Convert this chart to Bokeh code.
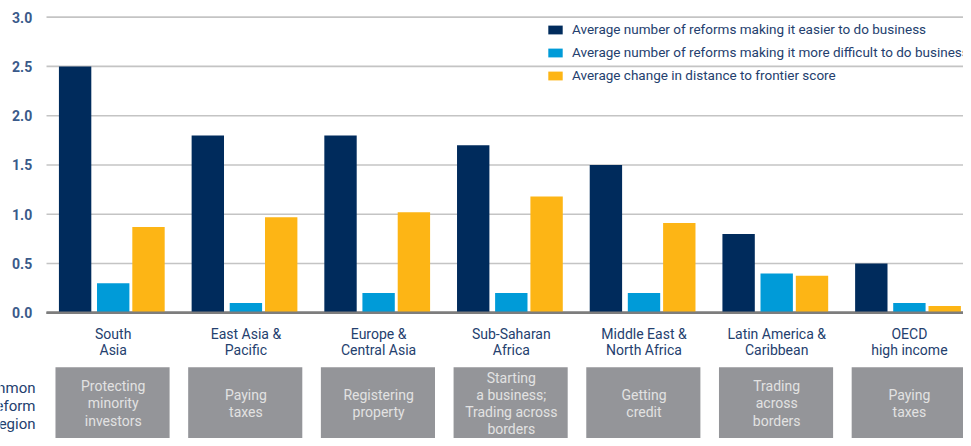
from bokeh.plotting import figure
from bokeh.models import (ColumnDataSource, Range1d, Legend, LegendItem)
from bokeh.transform import dodge
from bokeh.core.properties import value
from bokeh.embed import file_html
from bokeh.resources import INLINE

# ---- data ----
regions = ["South\nAsia", "East Asia &\nPacific", "Europe &\nCentral Asia",
           "Sub-Saharan\nAfrica", "Middle East &\nNorth Africa",
           "Latin America &\nCaribbean", "OECD\nhigh income"]
easier = [2.5, 1.8, 1.8, 1.7, 1.5, 0.8, 0.5]
harder = [0.3, 0.1, 0.2, 0.2, 0.2, 0.4, 0.1]
dtf_change = [0.87, 0.97, 1.02, 1.18, 0.91, 0.375, 0.07]
common_reform = ["Protecting\nminority\ninvestors", "Paying\ntaxes",
                 "Registering\nproperty",
                 "Starting\na business;\nTrading across\nborders",
                 "Getting\ncredit", "Trading\nacross\nborders", "Paying\ntaxes"]
series_names = ["Average number of reforms making it easier to do business",
                "Average number of reforms making it more difficult to do business",
                "Average change in distance to frontier score"]
y_ticks = [0.0, 0.5, 1.0, 1.5, 2.0, 2.5, 3.0]
y_tick_labels = ["0.0", "0.5", "1.0", "1.5", "2.0", "2.5", "3.0"]
row_label = "Most common\narea of reform\nby region"

# ---- style / layout constants ----
NAVY = "#002b5c"
BLUE = "#009bd8"
GOLD = "#fdb515"
TXT = "#24406e"
FONT = "Roboto"
X0, X1 = -0.8493, 6.4077       # canvas x range (data units)
Y0, Y1 = -1.2754, 3.1687       # canvas y range (data units)
GRID_LEFT = -0.5026            # where the plot area starts
TICK_X = -0.6104               # right edge of the tick labels
ROW_X = -0.5855                # right edge of the row caption
CAT_Y = -0.294                 # middle of the region labels
BOX_TOP, BOX_BOTTOM = -0.552, -1.40
BOX_TEXT_Y = -0.920

n = len(regions)
xs = list(range(n))
src = ColumnDataSource(dict(
    x=xs, easier=easier, harder=harder, dtf=dtf_change,
    region=regions, reform=common_reform,
    ycat=[CAT_Y] * n, ybox=[BOX_TEXT_Y] * n,
    box_l=[i - 0.435 for i in xs], box_r=[i + 0.425 for i in xs],
    box_t=[BOX_TOP] * n, box_b=[BOX_BOTTOM] * n,
))
grid_src = ColumnDataSource(dict(
    y=y_ticks, x0=[GRID_LEFT] * len(y_ticks), x1=[X1] * len(y_ticks),
    tx=[TICK_X] * len(y_ticks), lab=y_tick_labels,
    color=["#7d7d7d"] + ["#c4c4c4"] * (len(y_ticks) - 1),
    lw=[2.5] + [1.6] * (len(y_ticks) - 1),
))

p = figure(width=963, height=438, output_backend="svg", toolbar_location=None,
           x_range=Range1d(X0, X1), y_range=Range1d(Y0, Y1),
           x_axis_location=None, y_axis_location=None,
           min_border_left=0, min_border_right=0,
           min_border_top=0, min_border_bottom=0)
p.outline_line_color = None
p.xgrid.visible = False
p.ygrid.visible = False

# gridlines (light) and zero line (dark)
p.segment(x0="x0", x1="x1", y0="y", y1="y", source=grid_src,
          line_color="color", line_width="lw", level="underlay")

# y tick labels
p.text(x="tx", y="y", text="lab", source=grid_src, text_align="right",
       text_baseline="middle", text_font=value(FONT), text_font_size="14px",
       text_font_style="bold", text_color="#3a5a8a")

w = 0.244
r1 = p.vbar(x=dodge("x", -0.287, range=p.x_range), top="easier", width=w,
            source=src, fill_color=NAVY, line_color=None)
r2 = p.vbar(x=dodge("x", 0.0, range=p.x_range), top="harder", width=w,
            source=src, fill_color=BLUE, line_color=None)
r3 = p.vbar(x=dodge("x", 0.266, range=p.x_range), top="dtf", width=w,
            source=src, fill_color=GOLD, line_color=None)

# redraw zero line over bar bottoms
p.segment(x0=[GRID_LEFT], x1=[X1], y0=[y_ticks[0]], y1=[y_ticks[0]],
          line_color="#7d7d7d", line_width=2.5)

# region labels
p.text(x="x", y="ycat", text="region", source=src, text_align="center",
       text_baseline="middle", text_font=value(FONT), text_font_size="14px",
       text_color=TXT, text_line_height=1.0)

# grey boxes with most common reform area
p.quad(left="box_l", right="box_r", top="box_t", bottom="box_b", source=src,
       fill_color="#949599", line_color=None)
p.text(x="x", y="ybox", text="reform", source=src, text_align="center",
       text_baseline="middle", text_font=value(FONT), text_font_size="14px",
       text_color="#e2e2e2", text_line_height=1.08)

# row caption at the far left
p.text(x=[ROW_X], y=[-0.9456], text=[row_label], text_align="right",
       text_baseline="middle", text_font=value(FONT), text_font_size="15px",
       text_color=TXT, text_line_height=1.0)

legend = Legend(items=[LegendItem(label=series_names[0], renderers=[r1]),
                       LegendItem(label=series_names[1], renderers=[r2]),
                       LegendItem(label=series_names[2], renderers=[r3])],
                location=(546, 352), orientation="vertical",
                background_fill_alpha=0, border_line_color=None,
                padding=0, margin=0, spacing=1,
                glyph_width=18, glyph_height=11, label_height=22,
                label_standoff=8, label_text_font=FONT,
                label_text_font_size="13.5px", label_text_color=TXT)
p.add_layout(legend, "center")

open("out.html", "w").write(file_html(p, INLINE))
